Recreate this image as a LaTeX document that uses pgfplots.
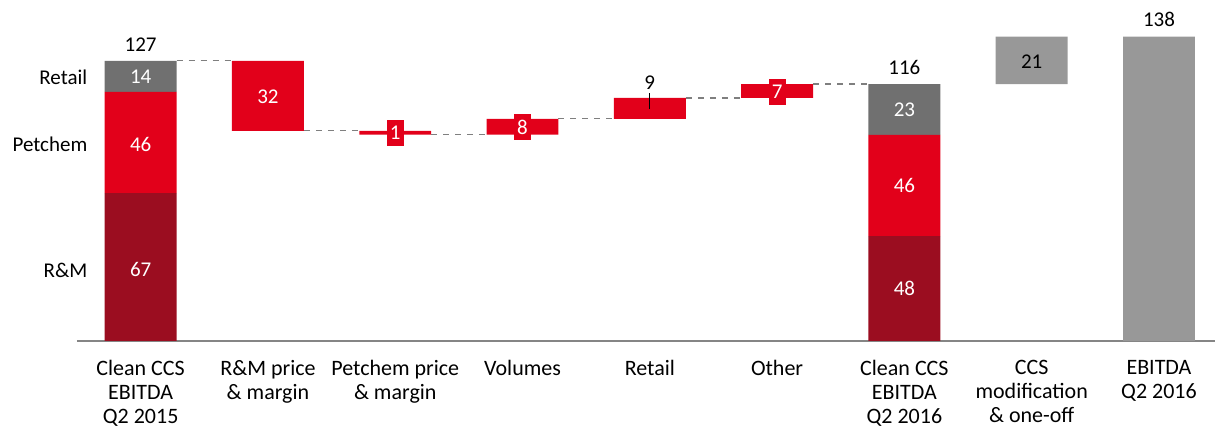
\documentclass[border=0pt]{standalone}
\usepackage{pgfplots}
\usepackage{pgfplotstable}
\pgfplotsset{compat=1.18}
\usepackage{fontspec}
\setmainfont{Carlito}
\definecolor{rmred}{HTML}{9B0D20}
\definecolor{pcred}{HTML}{E2001A}
\definecolor{rtgrey}{HTML}{707070}
\definecolor{ltgrey}{HTML}{989898}
\definecolor{conn}{HTML}{7F7F7F}
\definecolor{axgrey}{HTML}{858585}

\pgfplotstableread{
x base rm pc rt chg tot
0 0 67 46 14 0 0
1 95.3 0 0 0 31.7 0
2 93.6 0 0 0 1.7 0
3 93.6 0 0 0 7.1 0
4 100.7 0 0 0 9.5 0
5 110.2 0 0 0 6.3 0
6 0 47.6 45.8 23.1 0 0
7 116.5 0 0 0 0 21.5
8 0 0 0 0 0 138
}\wf

\pgfplotsset{common/.style={
  scale only axis,
  width=569pt, height=170.5pt,
  xmin=-0.5, xmax=8.44,
  ymin=0, ymax=154.6,
  clip=false,
}}

\begin{document}
\begin{tikzpicture}[lbl/.style={font=\fontsize{10.5}{12}\selectfont},
  box/.style={lbl, white, fill=pcred, inner sep=0pt, minimum width=8.5pt, minimum height=13pt}]
\begin{axis}[
  common,
  ybar stacked, bar width=0.565,
  axis y line=none,
  axis x line*=bottom,
  x axis line style={axgrey, line width=1pt, -},
  xtick={0,...,8},
  xtick style={draw=none},
  xticklabels={{Clean CCS\\EBITDA\\Q2 2015},{R\&M price\\\& margin},{Petchem price\\\& margin},{Volumes},{Retail},{Other},{Clean CCS\\EBITDA\\Q2 2016},{CCS\\modification\\\& one-off},{EBITDA\\Q2 2016}},
  xticklabel style={align=center, font=\fontsize{11}{12}\selectfont, yshift=-6pt},
]
\addplot[draw=none, fill=none] table[x=x, y=base] {\wf};
\addplot[draw=none, fill=rmred] table[x=x, y=rm] {\wf};
\addplot[draw=none, fill=pcred] table[x=x, y=pc] {\wf};
\addplot[draw=none, fill=rtgrey] table[x=x, y=rt] {\wf};
\addplot[draw=none, fill=pcred] table[x=x, y=chg] {\wf};
\addplot[draw=none, fill=ltgrey] table[x=x, y=tot] {\wf};
\coordinate (bl) at (rel axis cs:0,0);
\coordinate (tr) at (rel axis cs:1,1);
\end{axis}
\begin{axis}[common, hide axis]
% connectors
\draw[conn, dashed, line width=0.6pt] (axis cs:0.2825,127) -- (axis cs:0.7175,127);
\draw[conn, dashed, line width=0.6pt] (axis cs:1.2825,95.3) -- (axis cs:1.7175,95.3);
\draw[conn, dashed, line width=0.6pt] (axis cs:2.2825,93.6) -- (axis cs:2.7175,93.6);
\draw[conn, dashed, line width=0.6pt] (axis cs:3.2825,100.7) -- (axis cs:3.7175,100.7);
\draw[conn, dashed, line width=0.6pt] (axis cs:4.2825,110.2) -- (axis cs:4.7175,110.2);
\draw[conn, dashed, line width=0.6pt] (axis cs:5.2825,116.5) -- (axis cs:5.7175,116.5);

% category labels left
\node[lbl, anchor=east, inner sep=0pt] at (axis cs:-0.416,119.7) {Retail};
\node[lbl, anchor=east, inner sep=0pt] at (axis cs:-0.416,89.3) {Petchem};
\node[lbl, anchor=east, inner sep=0pt] at (axis cs:-0.416,32.2) {R\&M};

% value labels
\node[lbl] at (axis cs:0,134.2) {127};
\node[lbl, white] at (axis cs:0,119.7) {14};
\node[lbl, white] at (axis cs:0,89.3) {46};
\node[lbl, white] at (axis cs:0,32.2) {67};
\node[lbl, white] at (axis cs:1,110.7) {32};
\node[box] at (axis cs:2,94.3) {1};
\node[box] at (axis cs:3,97) {8};
\draw[black, line width=0.6pt] (axis cs:4,105.2) -- (axis cs:4,112.5);
\node[lbl] at (axis cs:4,117) {9};
\node[box] at (axis cs:5,113) {7};
\node[lbl] at (axis cs:6,123.8) {116};
\node[lbl, white] at (axis cs:6,104.8) {23};
\node[lbl, white] at (axis cs:6,70.3) {46};
\node[lbl, white] at (axis cs:6,24) {48};
\node[lbl] at (axis cs:7,126.5) {21};
\node[lbl] at (axis cs:8,145.6) {138};
\end{axis}
\pgfresetboundingbox
\path[use as bounding box] ([shift={(-38.5pt,-43pt)}]bl) rectangle (tr);
\end{tikzpicture}
\end{document}
